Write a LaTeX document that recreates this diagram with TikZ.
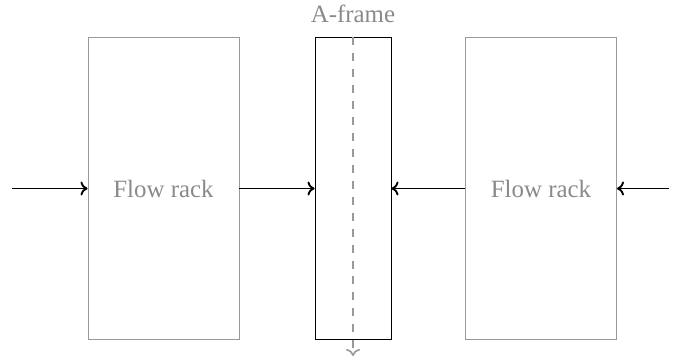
\documentclass[tikz,border=0pt]{standalone}
\usepackage{fontspec}
\setmainfont{Liberation Serif}
\usetikzlibrary{arrows.meta}
\definecolor{rackgray}{HTML}{8A8A8A}
\definecolor{linegray}{HTML}{999999}
\begin{document}
\begin{tikzpicture}[x=0.426pt,y=-0.426pt,
  font=\fontsize{10.6}{12}\selectfont,
  rack/.style={draw=linegray,line width=0.4pt,text=rackgray,minimum width=151*0.426pt,minimum height=302*0.426pt,inner sep=0pt},
  aframe/.style={draw=black,line width=0.4pt,minimum width=76*0.426pt,minimum height=302*0.426pt,inner sep=0pt},
  flow/.style={-{To[length=3pt,width=6pt]},line width=0.8pt},
  dashflow/.style={-{To[length=3pt,width=6pt]},draw=linegray,line width=0.7pt,dash pattern=on 3.4pt off 3.4pt}]
\useasboundingbox (0,0) rectangle (681,360);
\node[rack] (L) at (163.5,188.5) {Flow rack};
\node[aframe] (A) at (353,188.5) {};
\node[rack] (R) at (541,188.5) {Flow rack};
\node[text=rackgray,anchor=base] (Alab) at (353,22) {A-frame};
\coordinate (lin) at (12,188.5);
\coordinate (rin) at (669,188.5);
\coordinate (out) at (353,356);
\draw[flow] (lin) -- (L.west);
\draw[flow] (L.east) -- (A.west);
\draw[flow] (R.west) -- (A.east);
\draw[flow] (rin) -- (R.east);
\draw[dashflow] (A.north) -- (out);
\end{tikzpicture}
\end{document}
